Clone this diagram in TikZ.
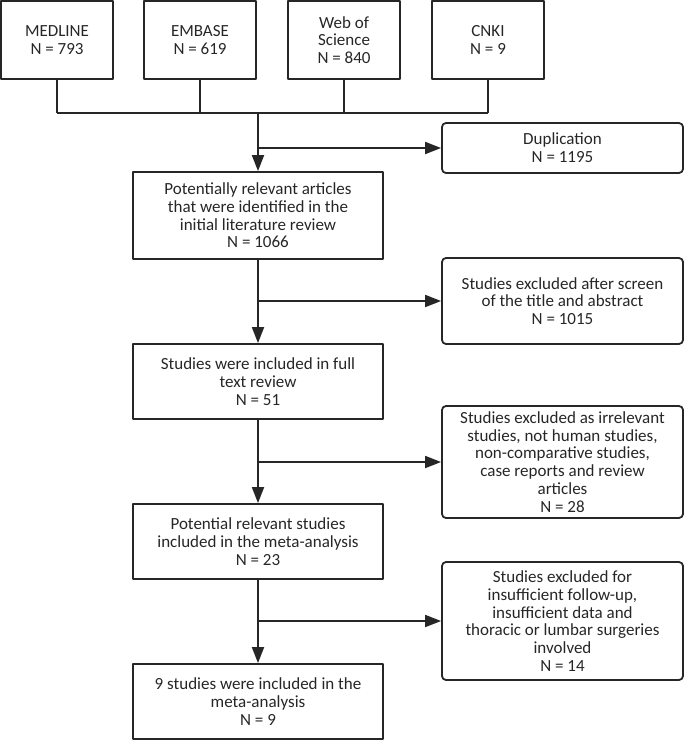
\documentclass[tikz,border=0pt]{standalone}
\usepackage{fontspec}
\setmainfont{Carlito}
\usetikzlibrary{arrows.meta}
\definecolor{ink}{HTML}{262626}
\tikzset{
  box/.style={draw=ink,line width=1.8pt,align=center,inner sep=0pt,text=ink},
  side/.style={box,rounded corners=4pt,minimum width=241pt},
  main/.style={box,minimum width=250pt,minimum height=75pt},
}
\begin{document}
\begin{tikzpicture}[x=1pt,y=-1pt,>={Triangle[length=16pt,width=12pt]},line join=round,
    font=\fontsize{17}{17.7}\selectfont]
	\useasboundingbox (0,0) rectangle (685,740);
	\path (258,113) coordinate (J);
	% databases
	\foreach \n/\x/\t in {A/57/{MEDLINE\\N = 793},B/200/{EMBASE\\N = 619},
	  C/344/{Web of\\Science\\N = 840},D/488/{CNKI\\N = 9}}
	  \node[box,minimum width=112pt,minimum height=78pt] (\n) at (\x,40) {\t};
	\foreach \n in {A,B,C,D}
	  \draw[ink,line width=1.8pt] (\n.south) -- (\n.south |- J);
	\draw[ink,line width=1.8pt] (A.south |- J) -- (D.south |- J);
	% main column
	\node[main,minimum height=87pt] (P1) at (258,215.5) {Potentially relevant articles\\that were identified in the\\initial literature review\\N = 1066};
	\node[main] (P2) at (258,381.5) {Studies were included in full\\text review\\N = 51};
	\node[main] (P3) at (258,541.5) {Potential relevant studies\\included in the meta-analysis\\N = 23};
	\node[main] (P4) at (258,701.5) {9 studies were included in the\\meta-analysis\\N = 9};
	% excluded
	\node[side,minimum height=50pt] (X0) at (562.5,148) {Duplication\\N = 1195};
	\node[side,minimum height=86pt] (X1) at (562.5,301) {Studies excluded after screen\\of the title and abstract\\N = 1015};
	\node[side,minimum height=112pt] (X2) at (562.5,462) {Studies excluded as irrelevant\\studies, not human studies,\\non-comparative studies,\\case reports and review\\articles\\N = 28};
	\node[side,minimum height=118pt] (X3) at (562.5,621) {Studies excluded for\\insufficient follow-up,\\insufficient data and\\thoracic or lumbar surgeries\\involved\\N = 14};
	\begin{scope}[ink,line width=1.8pt]
	\draw[->] (J) -- (P1);
	\draw[->] (J |- X0) -- (X0);
	\draw[->] (P1) -- (P2);
	\draw[->] (P1.south |- X1) -- (X1);
	\draw[->] (P2) -- (P3);
	\draw[->] (P2.south |- X2) -- (X2);
	\draw[->] (P3) -- (P4);
	\draw[->] (P3.south |- X3) -- (X3);
	\end{scope}
\end{tikzpicture}
\end{document}
